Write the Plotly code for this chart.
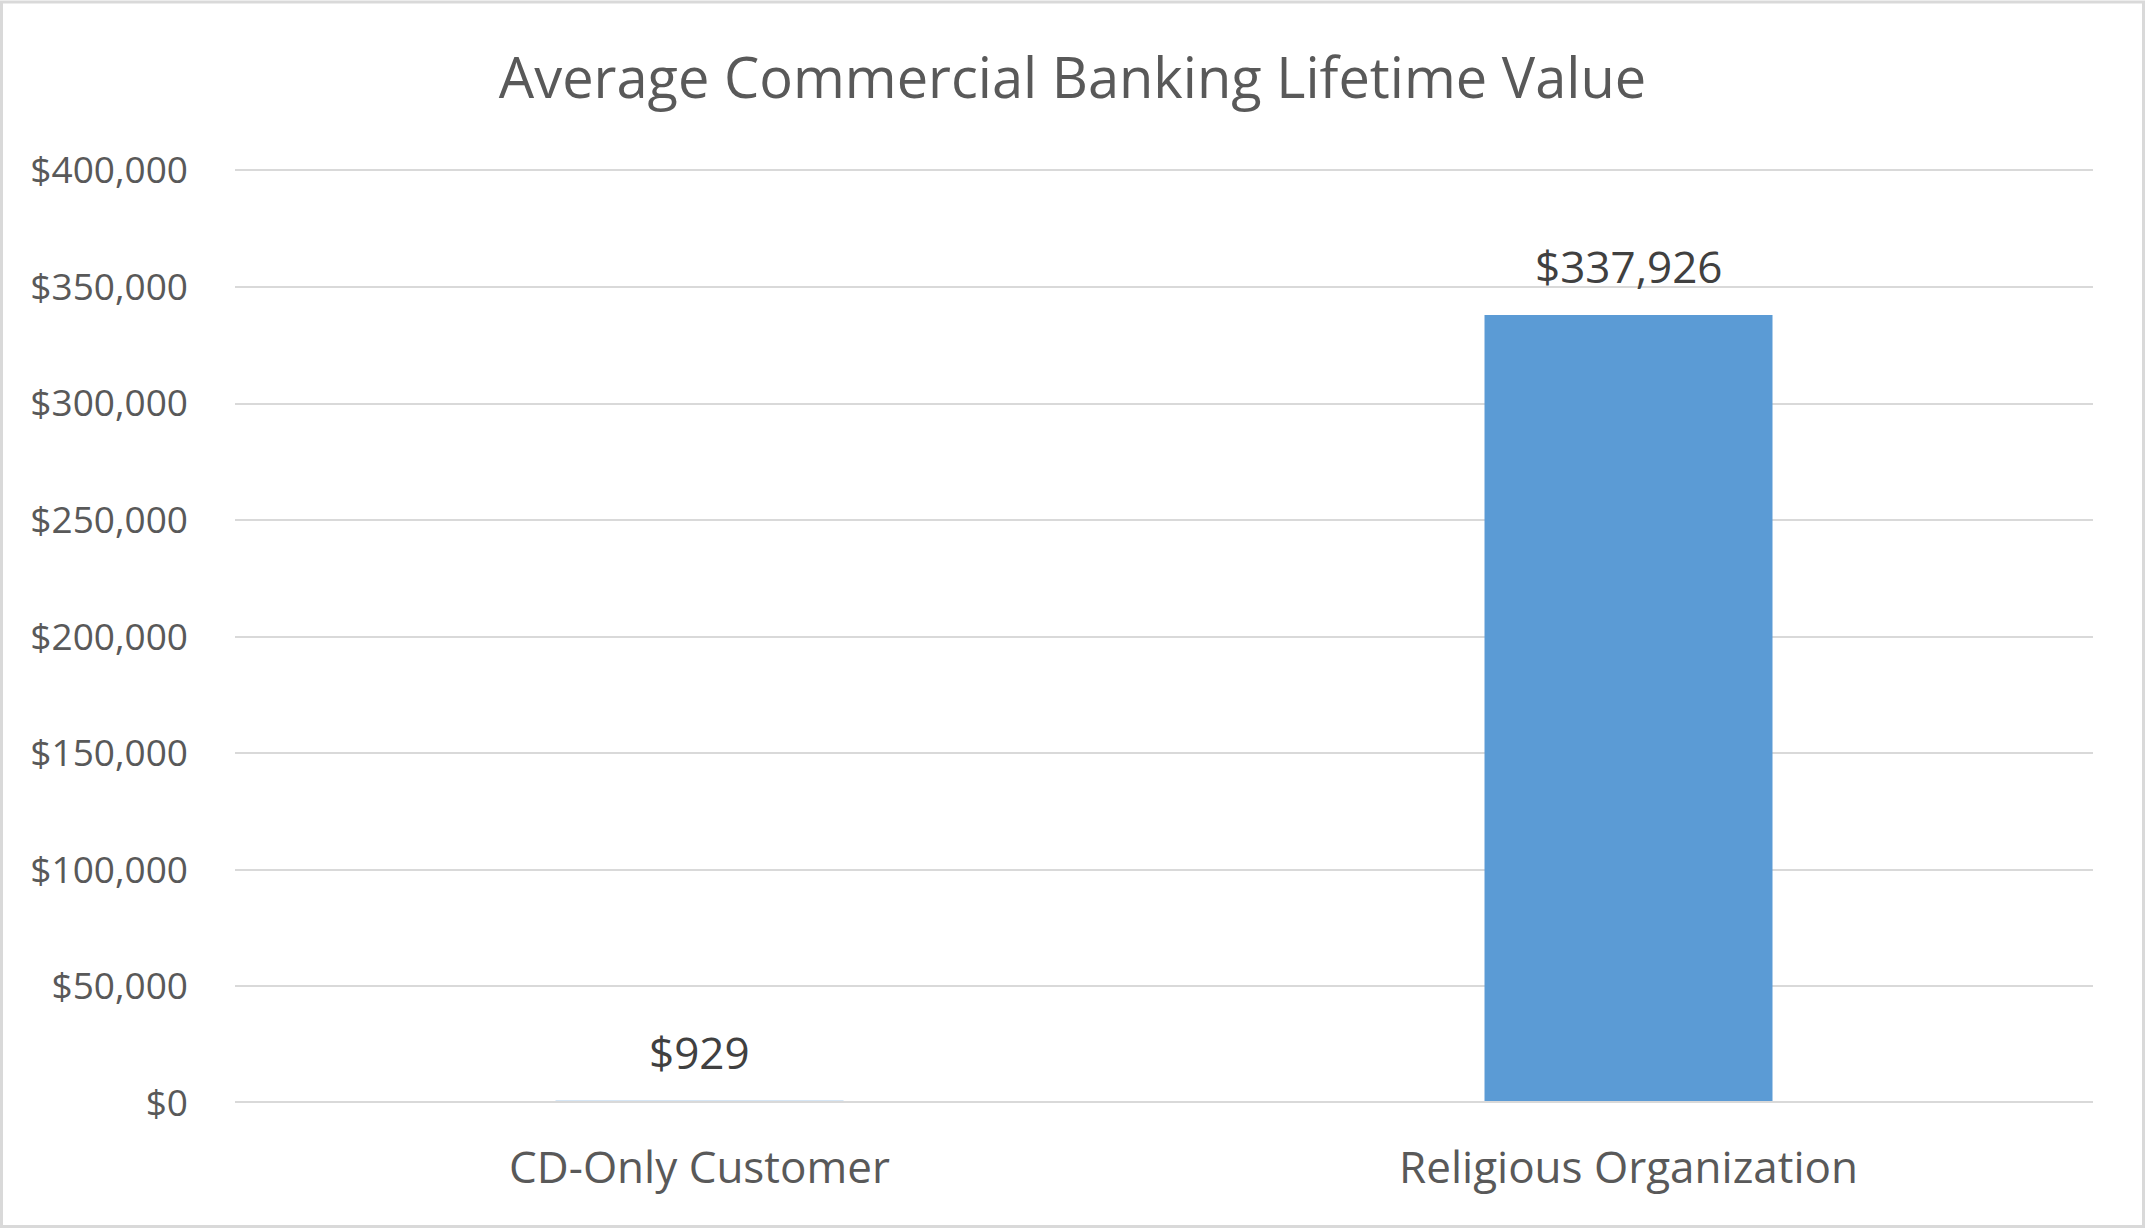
import plotly.graph_objects as go

categories = ["CD-Only Customer", "Religious Organization"]
lifetime_value = [929, 337926]
y_ticks = [0, 50000, 100000, 150000, 200000, 250000, 300000, 350000, 400000]

TEXT = "#595959"
FONT = "Open Sans"
W, H = 2145, 1228
L, R, B = 235, 52, 125
Y_MAX = 401000
# keep the $400,000 gridline at y=170 px while leaving a little headroom
T = 170 - (H - 170 - B) * (Y_MAX - 400000) / 400000
PW, PH = W - L - R, H - T - B

fig = go.Figure()

fig.add_trace(go.Bar(
    x=categories, y=lifetime_value,
    marker=dict(color="#5B9BD5", line=dict(width=0)),
    width=0.31,
    hoverinfo="x+y"
))

# data labels sit a fixed distance above each bar top
for cat, val in zip(categories, lifetime_value):
    fig.add_annotation(
        x=cat, y=val, text=f"${val:,.0f}",
        showarrow=False, yanchor="middle", yshift=49,
        font=dict(family=FONT, size=44, color="#404040")
    )

fig.update_layout(
    width=W, height=H,
    paper_bgcolor="white", plot_bgcolor="white",
    margin=dict(l=L, r=R, t=T, b=B),
    title=dict(
        text="Average Commercial Banking Lifetime Value",
        x=0.5, xanchor="center", y=1 - 78 / H, yanchor="middle",
        font=dict(family=FONT, size=56, color=TEXT)
    ),
    xaxis=dict(
        showgrid=False, showline=False, zeroline=False,
        ticks="", tickfont=dict(family=FONT, size=44, color=TEXT),
        ticklabelstandoff=35, automargin=False
    ),
    yaxis=dict(
        range=[0, Y_MAX], tickvals=y_ticks, tickformat="$,.0f",
        showgrid=True, gridcolor="#D9D9D9", gridwidth=2,
        zeroline=False, showline=False, ticks="",
        tickfont=dict(family=FONT, size=37, color=TEXT),
        ticklabelstandoff=46, automargin=False
    ),
    showlegend=False,
    shapes=[
        # category axis line drawn over the bars, like Excel
        dict(type="line", xref="paper", yref="y", x0=0, x1=1, y0=0, y1=0,
             line=dict(color="#D9D9D9", width=4), layer="above"),
        # chart area border
        dict(type="rect", xref="paper", yref="paper",
             x0=(1.5 - L) / PW, x1=1 + (R - 1.5) / PW,
             y0=-(B - 1.5) / PH, y1=1 + (T - 1.5) / PH,
             line=dict(color="#D9D9D9", width=3)),
    ]
)

fig.write_html("out.html", config={"displayModeBar": False},
               post_script="document.body.style.margin='0';")
